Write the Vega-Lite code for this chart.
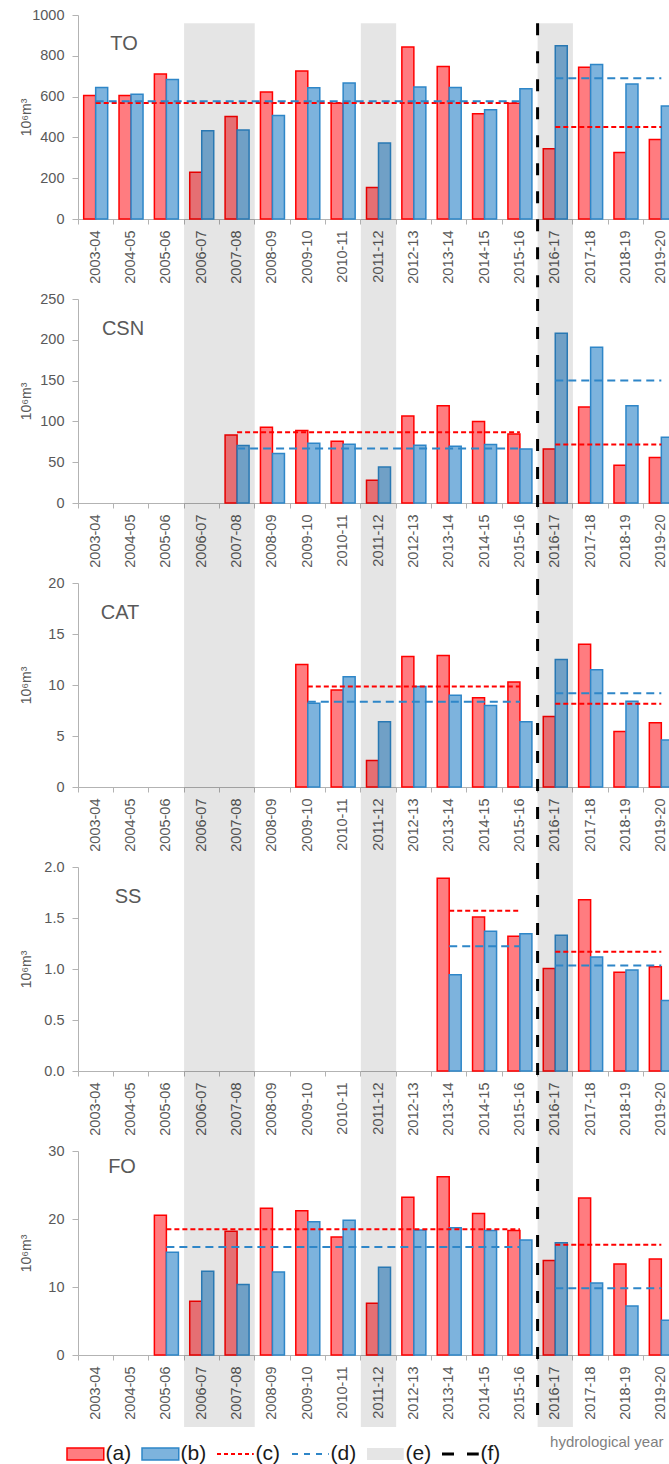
{
"$schema": "https://vega.github.io/schema/vega-lite/v6.json",
"padding": {"left": 19, "top": 7, "right": 0, "bottom": 0},
"background": "white",
"spacing": 80,
"bounds": "flush",
"datasets": {
"bars": [
{"p":"TO","y":"2003-04","(a)":605,"(b)":644},
{"p":"TO","y":"2004-05","(a)":606,"(b)":611},
{"p":"TO","y":"2005-06","(a)":711,"(b)":684},
{"p":"TO","y":"2006-07","(a)":229,"(b)":433},
{"p":"TO","y":"2007-08","(a)":502,"(b)":436},
{"p":"TO","y":"2008-09","(a)":623,"(b)":507},
{"p":"TO","y":"2009-10","(a)":726,"(b)":643},
{"p":"TO","y":"2010-11","(a)":567,"(b)":667},
{"p":"TO","y":"2011-12","(a)":154,"(b)":372},
{"p":"TO","y":"2012-13","(a)":843,"(b)":647},
{"p":"TO","y":"2013-14","(a)":748,"(b)":644},
{"p":"TO","y":"2014-15","(a)":516,"(b)":536},
{"p":"TO","y":"2015-16","(a)":567,"(b)":638},
{"p":"TO","y":"2016-17","(a)":344,"(b)":849},
{"p":"TO","y":"2017-18","(a)":744,"(b)":757},
{"p":"TO","y":"2018-19","(a)":326,"(b)":662},
{"p":"TO","y":"2019-20","(a)":390,"(b)":554},
{"p":"CSN","y":"2007-08","(a)":83.4,"(b)":70.4},
{"p":"CSN","y":"2008-09","(a)":92.8,"(b)":60.7},
{"p":"CSN","y":"2009-10","(a)":88.8,"(b)":73.3},
{"p":"CSN","y":"2010-11","(a)":75.7,"(b)":72},
{"p":"CSN","y":"2011-12","(a)":28,"(b)":44},
{"p":"CSN","y":"2012-13","(a)":106.7,"(b)":70.8},
{"p":"CSN","y":"2013-14","(a)":119.3,"(b)":69.6},
{"p":"CSN","y":"2014-15","(a)":99.8,"(b)":71.7},
{"p":"CSN","y":"2015-16","(a)":84.7,"(b)":66.3},
{"p":"CSN","y":"2016-17","(a)":66.3,"(b)":208},
{"p":"CSN","y":"2017-18","(a)":117.6,"(b)":190.9},
{"p":"CSN","y":"2018-19","(a)":46.4,"(b)":119.3},
{"p":"CSN","y":"2019-20","(a)":55.8,"(b)":80.6},
{"p":"CAT","y":"2009-10","(a)":12.0,"(b)":8.2},
{"p":"CAT","y":"2010-11","(a)":9.5,"(b)":10.8},
{"p":"CAT","y":"2011-12","(a)":2.6,"(b)":6.4},
{"p":"CAT","y":"2012-13","(a)":12.8,"(b)":9.85},
{"p":"CAT","y":"2013-14","(a)":12.9,"(b)":9.0},
{"p":"CAT","y":"2014-15","(a)":8.75,"(b)":8.0},
{"p":"CAT","y":"2015-16","(a)":10.3,"(b)":6.4},
{"p":"CAT","y":"2016-17","(a)":6.9,"(b)":12.5},
{"p":"CAT","y":"2017-18","(a)":14.0,"(b)":11.5},
{"p":"CAT","y":"2018-19","(a)":5.45,"(b)":8.4},
{"p":"CAT","y":"2019-20","(a)":6.3,"(b)":4.6},
{"p":"SS","y":"2013-14","(a)":1.89,"(b)":0.944},
{"p":"SS","y":"2014-15","(a)":1.51,"(b)":1.37},
{"p":"SS","y":"2015-16","(a)":1.32,"(b)":1.346},
{"p":"SS","y":"2016-17","(a)":1.006,"(b)":1.33},
{"p":"SS","y":"2017-18","(a)":1.68,"(b)":1.118},
{"p":"SS","y":"2018-19","(a)":0.967,"(b)":0.99},
{"p":"SS","y":"2019-20","(a)":1.023,"(b)":0.69},
{"p":"FO","y":"2005-06","(a)":20.54,"(b)":15.1},
{"p":"FO","y":"2006-07","(a)":7.9,"(b)":12.3},
{"p":"FO","y":"2007-08","(a)":18.2,"(b)":10.35},
{"p":"FO","y":"2008-09","(a)":21.57,"(b)":12.2},
{"p":"FO","y":"2009-10","(a)":21.2,"(b)":19.6},
{"p":"FO","y":"2010-11","(a)":17.36,"(b)":19.8},
{"p":"FO","y":"2011-12","(a)":7.6,"(b)":12.9},
{"p":"FO","y":"2012-13","(a)":23.2,"(b)":18.4},
{"p":"FO","y":"2013-14","(a)":26.2,"(b)":18.7},
{"p":"FO","y":"2014-15","(a)":20.8,"(b)":18.3},
{"p":"FO","y":"2015-16","(a)":18.3,"(b)":16.9},
{"p":"FO","y":"2016-17","(a)":13.9,"(b)":16.5},
{"p":"FO","y":"2017-18","(a)":23.1,"(b)":10.6},
{"p":"FO","y":"2018-19","(a)":13.4,"(b)":7.2},
{"p":"FO","y":"2019-20","(a)":14.1,"(b)":5.1}
],
"means": [
{"p":"TO","s":"(c)","from":"2003-04","to":"2015-16","v":569},
{"p":"TO","s":"(d)","from":"2003-04","to":"2015-16","v":577},
{"p":"TO","s":"(c)","from":"2016-17","to":"2019-20","v":451},
{"p":"TO","s":"(d)","from":"2016-17","to":"2019-20","v":690},
{"p":"CSN","s":"(c)","from":"2007-08","to":"2015-16","v":86.7},
{"p":"CSN","s":"(d)","from":"2007-08","to":"2015-16","v":66.8},
{"p":"CSN","s":"(c)","from":"2016-17","to":"2019-20","v":71.7},
{"p":"CSN","s":"(d)","from":"2016-17","to":"2019-20","v":150.2},
{"p":"CAT","s":"(c)","from":"2009-10","to":"2015-16","v":9.85},
{"p":"CAT","s":"(d)","from":"2009-10","to":"2015-16","v":8.35},
{"p":"CAT","s":"(c)","from":"2016-17","to":"2019-20","v":8.15},
{"p":"CAT","s":"(d)","from":"2016-17","to":"2019-20","v":9.2},
{"p":"SS","s":"(c)","from":"2013-14","to":"2015-16","v":1.571},
{"p":"SS","s":"(d)","from":"2013-14","to":"2015-16","v":1.222},
{"p":"SS","s":"(c)","from":"2016-17","to":"2019-20","v":1.17},
{"p":"SS","s":"(d)","from":"2016-17","to":"2019-20","v":1.035},
{"p":"FO","s":"(c)","from":"2005-06","to":"2015-16","v":18.5},
{"p":"FO","s":"(d)","from":"2005-06","to":"2015-16","v":15.9},
{"p":"FO","s":"(c)","from":"2016-17","to":"2019-20","v":16.2},
{"p":"FO","s":"(d)","from":"2016-17","to":"2019-20","v":9.8}
],
"bands": [
{"from":"2006-07","to":"2007-08"},
{"from":"2011-12","to":"2011-12"},
{"from":"2016-17","to":"2016-17"}
],
"boundary": [{"year":"2016-17"}],
"panels": [{"p":"TO"},{"p":"CSN"},{"p":"CAT"},{"p":"SS"},{"p":"FO"}],
"legend": [{"s":"(a)"},{"s":"(b)"},{"s":"(c)"},{"s":"(d)"},{"s":"(e)"},{"s":"(f)"}]
},
"config": {
"view": {"stroke": null},
"font": "Liberation Sans",
"legend": {"disable": true},
"axis": {"labelFont": "Liberation Sans", "labelFontSize": 14.5, "labelColor": "#595959", "domainColor": "#b3b3b3", "tickColor": "#b3b3b3", "grid": false, "zindex": 1, "titleFont": "Liberation Sans", "titleFontWeight": "normal", "titleColor": "#595959", "titleFontSize": 14}
},
"vconcat": [
{
"width": 601, "height": 204,
"layer": [
{"data": {"name": "bars"}, "transform": [{"filter": "datum.p === 'TO'"}, {"fold": ["(a)", "(b)"], "as": ["s", "v"]}],
 "mark": {"type": "bar", "strokeWidth": 1.5},
 "encoding": {
  "x": {"field": "y", "type": "nominal", "scale": {"domain": ["2003-04","2004-05","2005-06","2006-07","2007-08","2008-09","2009-10","2010-11","2011-12","2012-13","2013-14","2014-15","2015-16","2016-17","2017-18","2018-19","2019-20"], "paddingInner": 0, "paddingOuter": 0}, "axis": {"title": null, "bandPosition": 0, "labelOffset": 0, "labelAngle": -90, "labelPadding": 6, "tickSize": 5}},
  "xOffset": {"field": "s", "type": "nominal", "scale": {"domain": ["(a)", "(b)"], "paddingInner": 0, "paddingOuter": 0.473}},
  "y": {"field": "v", "type": "quantitative", "scale": {"domain": [0, 1000], "nice": false}, "axis": {"title": "10⁶m³", "values": [0,200,400,600,800,1000], "format": "d", "tickSize": 6, "labelPadding": 8, "titleX": -52, "titleBaseline": "middle"}},
  "fill": {"field": "s", "type": "nominal", "scale": {"domain": ["(a)","(b)","(c)","(d)","(e)","(f)"], "range": ["#ff7c80","#7db3dd","transparent","transparent","#e5e5e5","transparent"]}},
  "stroke": {"field": "s", "type": "nominal", "scale": {"domain": ["(a)","(b)","(c)","(d)","(e)","(f)"], "range": ["#ff0000","#2e86c8","#ff0000","#2e86c8","transparent","#000000"]}}
 }},
{"data": {"name": "bands"}, "mark": {"type": "rect", "color": "#000000", "opacity": 0.1, "clip": false},
 "encoding": {"x": {"field": "from", "type": "nominal", "bandPosition": 0}, "x2": {"field": "to", "bandPosition": 1}, "y": {"datum": 960}, "y2": {"datum": -392.16}}},
{"data": {"name": "means"}, "transform": [{"filter": "datum.p === 'TO' && datum.s === '(c)'"}], "mark": {"type": "rule", "strokeWidth": 2, "strokeDash": [5,3]},
 "encoding": {"x": {"field": "from", "type": "nominal", "bandPosition": 0.5}, "x2": {"field": "to", "bandPosition": 0.5}, "y": {"field": "v", "type": "quantitative"}, "stroke": {"field": "s", "type": "nominal"}}},
{"data": {"name": "means"}, "transform": [{"filter": "datum.p === 'TO' && datum.s === '(d)'"}], "mark": {"type": "rule", "strokeWidth": 2, "strokeDash": [8,5]},
 "encoding": {"x": {"field": "from", "type": "nominal", "bandPosition": 0.5}, "x2": {"field": "to", "bandPosition": 0.5}, "y": {"field": "v", "type": "quantitative"}, "stroke": {"field": "s", "type": "nominal"}}},
{"data": {"name": "boundary"}, "mark": {"type": "rule", "color": "#000000", "strokeWidth": 3, "strokeDash": [12,16], "clip": false},
 "encoding": {"x": {"field": "year", "type": "nominal", "bandPosition": 0}, "y": {"datum": 960}, "y2": {"datum": -392.16}}},
{"data": {"name": "panels"}, "transform": [{"filter": "datum.p === 'TO'"}], "mark": {"type": "text", "fontSize": 20, "color": "#595959", "dx": -7, "baseline": "middle", "font": "Liberation Sans"},
 "encoding": {"x": {"datum": "2004-05", "type": "nominal"}, "y": {"datum": 857}, "text": {"field": "p"}}}
]
},
{
"width": 601, "height": 204,
"layer": [
{"data": {"name": "bars"}, "transform": [{"filter": "datum.p === 'CSN'"}, {"fold": ["(a)", "(b)"], "as": ["s", "v"]}],
 "mark": {"type": "bar", "strokeWidth": 1.5},
 "encoding": {
  "x": {"field": "y", "type": "nominal", "scale": {"domain": ["2003-04","2004-05","2005-06","2006-07","2007-08","2008-09","2009-10","2010-11","2011-12","2012-13","2013-14","2014-15","2015-16","2016-17","2017-18","2018-19","2019-20"], "paddingInner": 0, "paddingOuter": 0}, "axis": {"title": null, "bandPosition": 0, "labelOffset": 0, "labelAngle": -90, "labelPadding": 6, "tickSize": 5}},
  "xOffset": {"field": "s", "type": "nominal", "scale": {"domain": ["(a)", "(b)"], "paddingInner": 0, "paddingOuter": 0.473}},
  "y": {"field": "v", "type": "quantitative", "scale": {"domain": [0, 250], "nice": false}, "axis": {"title": "10⁶m³", "values": [0,50,100,150,200,250], "tickSize": 6, "labelPadding": 8, "titleX": -52, "titleBaseline": "middle"}},
  "fill": {"field": "s", "type": "nominal"},
  "stroke": {"field": "s", "type": "nominal"}
 }},
{"data": {"name": "bands"}, "mark": {"type": "rect", "color": "#000000", "opacity": 0.1, "clip": false},
 "encoding": {"x": {"field": "from", "type": "nominal", "bandPosition": 0}, "x2": {"field": "to", "bandPosition": 1}, "y": {"datum": 250}, "y2": {"datum": -98.04}}},
{"data": {"name": "means"}, "transform": [{"filter": "datum.p === 'CSN' && datum.s === '(c)'"}], "mark": {"type": "rule", "strokeWidth": 2, "strokeDash": [5,3]},
 "encoding": {"x": {"field": "from", "type": "nominal", "bandPosition": 0.5}, "x2": {"field": "to", "bandPosition": 0.5}, "y": {"field": "v", "type": "quantitative"}, "stroke": {"field": "s", "type": "nominal"}}},
{"data": {"name": "means"}, "transform": [{"filter": "datum.p === 'CSN' && datum.s === '(d)'"}], "mark": {"type": "rule", "strokeWidth": 2, "strokeDash": [8,5]},
 "encoding": {"x": {"field": "from", "type": "nominal", "bandPosition": 0.5}, "x2": {"field": "to", "bandPosition": 0.5}, "y": {"field": "v", "type": "quantitative"}, "stroke": {"field": "s", "type": "nominal"}}},
{"data": {"name": "boundary"}, "mark": {"type": "rule", "color": "#000000", "strokeWidth": 3, "strokeDash": [12,16], "clip": false},
 "encoding": {"x": {"field": "year", "type": "nominal", "bandPosition": 0}, "y": {"datum": 250}, "y2": {"datum": -98.04}}},
{"data": {"name": "panels"}, "transform": [{"filter": "datum.p === 'CSN'"}], "mark": {"type": "text", "fontSize": 20, "color": "#595959", "dx": -8, "baseline": "middle", "font": "Liberation Sans"},
 "encoding": {"x": {"datum": "2004-05", "type": "nominal"}, "y": {"datum": 213.7}, "text": {"field": "p"}}}
]
},
{
"width": 601, "height": 204,
"layer": [
{"data": {"name": "bars"}, "transform": [{"filter": "datum.p === 'CAT'"}, {"fold": ["(a)", "(b)"], "as": ["s", "v"]}],
 "mark": {"type": "bar", "strokeWidth": 1.5},
 "encoding": {
  "x": {"field": "y", "type": "nominal", "scale": {"domain": ["2003-04","2004-05","2005-06","2006-07","2007-08","2008-09","2009-10","2010-11","2011-12","2012-13","2013-14","2014-15","2015-16","2016-17","2017-18","2018-19","2019-20"], "paddingInner": 0, "paddingOuter": 0}, "axis": {"title": null, "bandPosition": 0, "labelOffset": 0, "labelAngle": -90, "labelPadding": 6, "tickSize": 5}},
  "xOffset": {"field": "s", "type": "nominal", "scale": {"domain": ["(a)", "(b)"], "paddingInner": 0, "paddingOuter": 0.473}},
  "y": {"field": "v", "type": "quantitative", "scale": {"domain": [0, 20], "nice": false}, "axis": {"title": "10⁶m³", "values": [0,5,10,15,20], "tickSize": 6, "labelPadding": 8, "titleX": -52, "titleBaseline": "middle"}},
  "fill": {"field": "s", "type": "nominal"},
  "stroke": {"field": "s", "type": "nominal"}
 }},
{"data": {"name": "bands"}, "mark": {"type": "rect", "color": "#000000", "opacity": 0.1, "clip": false},
 "encoding": {"x": {"field": "from", "type": "nominal", "bandPosition": 0}, "x2": {"field": "to", "bandPosition": 1}, "y": {"datum": 20}, "y2": {"datum": -7.843}}},
{"data": {"name": "means"}, "transform": [{"filter": "datum.p === 'CAT' && datum.s === '(c)'"}], "mark": {"type": "rule", "strokeWidth": 2, "strokeDash": [5,3]},
 "encoding": {"x": {"field": "from", "type": "nominal", "bandPosition": 0.5}, "x2": {"field": "to", "bandPosition": 0.5}, "y": {"field": "v", "type": "quantitative"}, "stroke": {"field": "s", "type": "nominal"}}},
{"data": {"name": "means"}, "transform": [{"filter": "datum.p === 'CAT' && datum.s === '(d)'"}], "mark": {"type": "rule", "strokeWidth": 2, "strokeDash": [8,5]},
 "encoding": {"x": {"field": "from", "type": "nominal", "bandPosition": 0.5}, "x2": {"field": "to", "bandPosition": 0.5}, "y": {"field": "v", "type": "quantitative"}, "stroke": {"field": "s", "type": "nominal"}}},
{"data": {"name": "boundary"}, "mark": {"type": "rule", "color": "#000000", "strokeWidth": 3, "strokeDash": [12,16], "clip": false},
 "encoding": {"x": {"field": "year", "type": "nominal", "bandPosition": 0}, "y": {"datum": 20}, "y2": {"datum": -7.843}}},
{"data": {"name": "panels"}, "transform": [{"filter": "datum.p === 'CAT'"}], "mark": {"type": "text", "fontSize": 20, "color": "#595959", "dx": -11, "baseline": "middle", "font": "Liberation Sans"},
 "encoding": {"x": {"datum": "2004-05", "type": "nominal"}, "y": {"datum": 17.1}, "text": {"field": "p"}}}
]
},
{
"width": 601, "height": 204,
"layer": [
{"data": {"name": "bars"}, "transform": [{"filter": "datum.p === 'SS'"}, {"fold": ["(a)", "(b)"], "as": ["s", "v"]}],
 "mark": {"type": "bar", "strokeWidth": 1.5},
 "encoding": {
  "x": {"field": "y", "type": "nominal", "scale": {"domain": ["2003-04","2004-05","2005-06","2006-07","2007-08","2008-09","2009-10","2010-11","2011-12","2012-13","2013-14","2014-15","2015-16","2016-17","2017-18","2018-19","2019-20"], "paddingInner": 0, "paddingOuter": 0}, "axis": {"title": null, "bandPosition": 0, "labelOffset": 0, "labelAngle": -90, "labelPadding": 6, "tickSize": 5}},
  "xOffset": {"field": "s", "type": "nominal", "scale": {"domain": ["(a)", "(b)"], "paddingInner": 0, "paddingOuter": 0.473}},
  "y": {"field": "v", "type": "quantitative", "scale": {"domain": [0, 2], "nice": false}, "axis": {"title": "10⁶m³", "values": [0,0.5,1,1.5,2], "format": ".1f", "tickSize": 6, "labelPadding": 8, "titleX": -52, "titleBaseline": "middle"}},
  "fill": {"field": "s", "type": "nominal"},
  "stroke": {"field": "s", "type": "nominal"}
 }},
{"data": {"name": "bands"}, "mark": {"type": "rect", "color": "#000000", "opacity": 0.1, "clip": false},
 "encoding": {"x": {"field": "from", "type": "nominal", "bandPosition": 0}, "x2": {"field": "to", "bandPosition": 1}, "y": {"datum": 2}, "y2": {"datum": -0.7843}}},
{"data": {"name": "means"}, "transform": [{"filter": "datum.p === 'SS' && datum.s === '(c)'"}], "mark": {"type": "rule", "strokeWidth": 2, "strokeDash": [5,3]},
 "encoding": {"x": {"field": "from", "type": "nominal", "bandPosition": 0.5}, "x2": {"field": "to", "bandPosition": 0.5}, "y": {"field": "v", "type": "quantitative"}, "stroke": {"field": "s", "type": "nominal"}}},
{"data": {"name": "means"}, "transform": [{"filter": "datum.p === 'SS' && datum.s === '(d)'"}], "mark": {"type": "rule", "strokeWidth": 2, "strokeDash": [8,5]},
 "encoding": {"x": {"field": "from", "type": "nominal", "bandPosition": 0.5}, "x2": {"field": "to", "bandPosition": 0.5}, "y": {"field": "v", "type": "quantitative"}, "stroke": {"field": "s", "type": "nominal"}}},
{"data": {"name": "boundary"}, "mark": {"type": "rule", "color": "#000000", "strokeWidth": 3, "strokeDash": [12,16], "clip": false},
 "encoding": {"x": {"field": "year", "type": "nominal", "bandPosition": 0}, "y": {"datum": 2}, "y2": {"datum": -0.7843}}},
{"data": {"name": "panels"}, "transform": [{"filter": "datum.p === 'SS'"}], "mark": {"type": "text", "fontSize": 20, "color": "#595959", "dx": -3, "baseline": "middle", "font": "Liberation Sans"},
 "encoding": {"x": {"datum": "2004-05", "type": "nominal"}, "y": {"datum": 1.71}, "text": {"field": "p"}}}
]
},
{
"width": 601, "height": 204,
"layer": [
{"data": {"name": "bars"}, "transform": [{"filter": "datum.p === 'FO'"}, {"fold": ["(a)", "(b)"], "as": ["s", "v"]}],
 "mark": {"type": "bar", "strokeWidth": 1.5},
 "encoding": {
  "x": {"field": "y", "type": "nominal", "scale": {"domain": ["2003-04","2004-05","2005-06","2006-07","2007-08","2008-09","2009-10","2010-11","2011-12","2012-13","2013-14","2014-15","2015-16","2016-17","2017-18","2018-19","2019-20"], "paddingInner": 0, "paddingOuter": 0}, "axis": {"title": "hydrological year", "titleX": 585, "titleY": 86, "titleAlign": "right", "titleBaseline": "middle", "titleColor": "#7f7f7f", "titleFontSize": 15, "bandPosition": 0, "labelOffset": 0, "labelAngle": -90, "labelPadding": 6, "tickSize": 5}},
  "xOffset": {"field": "s", "type": "nominal", "scale": {"domain": ["(a)", "(b)"], "paddingInner": 0, "paddingOuter": 0.473}},
  "y": {"field": "v", "type": "quantitative", "scale": {"domain": [0, 30], "nice": false}, "axis": {"title": "10⁶m³", "values": [0,5,10,15,20,25,30], "tickSize": 6, "labelPadding": 8, "titleX": -52, "titleBaseline": "middle"}},
  "fill": {"field": "s", "type": "nominal"},
  "stroke": {"field": "s", "type": "nominal"}
 }},
{"data": {"name": "bands"}, "mark": {"type": "rect", "color": "#000000", "opacity": 0.1, "clip": false},
 "encoding": {"x": {"field": "from", "type": "nominal", "bandPosition": 0}, "x2": {"field": "to", "bandPosition": 1}, "y": {"datum": 30}, "y2": {"datum": -10.6}}},
{"data": {"name": "means"}, "transform": [{"filter": "datum.p === 'FO' && datum.s === '(c)'"}], "mark": {"type": "rule", "strokeWidth": 2, "strokeDash": [5,3]},
 "encoding": {"x": {"field": "from", "type": "nominal", "bandPosition": 0.5}, "x2": {"field": "to", "bandPosition": 0.5}, "y": {"field": "v", "type": "quantitative"}, "stroke": {"field": "s", "type": "nominal"}}},
{"data": {"name": "means"}, "transform": [{"filter": "datum.p === 'FO' && datum.s === '(d)'"}], "mark": {"type": "rule", "strokeWidth": 2, "strokeDash": [8,5]},
 "encoding": {"x": {"field": "from", "type": "nominal", "bandPosition": 0.5}, "x2": {"field": "to", "bandPosition": 0.5}, "y": {"field": "v", "type": "quantitative"}, "stroke": {"field": "s", "type": "nominal"}}},
{"data": {"name": "boundary"}, "mark": {"type": "rule", "color": "#000000", "strokeWidth": 3, "strokeDash": [12,16], "clip": false},
 "encoding": {"x": {"field": "year", "type": "nominal", "bandPosition": 0}, "y": {"datum": 30}, "y2": {"datum": -10.6}}},
{"data": {"name": "panels"}, "transform": [{"filter": "datum.p === 'FO'"}], "mark": {"type": "text", "fontSize": 20, "color": "#595959", "dx": -9, "baseline": "middle", "font": "Liberation Sans"},
 "encoding": {"x": {"datum": "2004-05", "type": "nominal"}, "y": {"datum": 27.6}, "text": {"field": "p"}}}
]
},
{
"width": 601, "height": 25,
"layer": [
{"data": {"name": "legend"}, "transform": [{"filter": "datum.s === '(a)' || datum.s === '(b)' || datum.s === '(e)'"}],
 "mark": {"type": "rect", "strokeWidth": 1.5},
 "encoding": {
  "x": {"field": "s", "type": "nominal", "bandPosition": 0, "scale": {"domain": ["(a)","(b)","(c)","(d)","(e)","(f)"], "range": [-11, 439], "paddingInner": 0, "paddingOuter": 0}, "axis": null},
  "x2": {"field": "s", "bandPosition": 0.49},
  "y": {"datum": 0, "scale": {"domain": [0, 1], "nice": false, "zero": false}, "axis": null},
  "y2": {"datum": 0.48},
  "fill": {"field": "s", "type": "nominal"},
  "stroke": {"field": "s", "type": "nominal"}
 }},
{"data": {"name": "legend"}, "transform": [{"filter": "datum.s === '(c)'"}],
 "mark": {"type": "rule", "strokeWidth": 2, "strokeDash": [4,3]},
 "encoding": {"x": {"field": "s", "type": "nominal", "bandPosition": 0}, "x2": {"field": "s", "bandPosition": 0.49}, "y": {"datum": 0.24}, "stroke": {"field": "s", "type": "nominal"}}},
{"data": {"name": "legend"}, "transform": [{"filter": "datum.s === '(d)'"}],
 "mark": {"type": "rule", "strokeWidth": 2, "strokeDash": [6,6]},
 "encoding": {"x": {"field": "s", "type": "nominal", "bandPosition": 0}, "x2": {"field": "s", "bandPosition": 0.49}, "y": {"datum": 0.24}, "stroke": {"field": "s", "type": "nominal"}}},
{"data": {"name": "legend"}, "transform": [{"filter": "datum.s === '(f)'"}],
 "mark": {"type": "rule", "strokeWidth": 3, "strokeDash": [12,13]},
 "encoding": {"x": {"field": "s", "type": "nominal", "bandPosition": 0}, "x2": {"field": "s", "bandPosition": 0.49}, "y": {"datum": 0.24}, "stroke": {"field": "s", "type": "nominal"}}},
{"data": {"name": "legend"},
 "mark": {"type": "text", "fontSize": 21, "color": "#1a1a1a", "align": "left", "baseline": "middle", "dx": 1, "font": "Liberation Sans"},
 "encoding": {"x": {"field": "s", "type": "nominal", "bandPosition": 0.5}, "y": {"datum": 0.24}, "text": {"field": "s"}}}
]
}
]
}
